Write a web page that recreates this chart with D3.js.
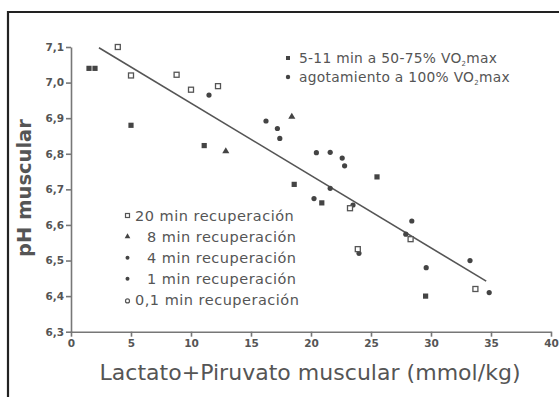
<!DOCTYPE html>
<html>
<head>
<meta charset="utf-8">
<script src="https://cdn.jsdelivr.net/npm/d3@7"></script>
<style>
  body { margin: 0; background: #fff; }
  text { font-family: "DejaVu Sans", sans-serif; fill: #555; }
</style>
</head>
<body>
<div id="chartbox"></div>
<script>
// data: [lactate+pyruvate mmol/kg, pH]
var ejercicio = [[1.5, 7.04], [2.0, 7.04], [5.0, 6.88], [11.1, 6.823], [18.6, 6.714], [20.9, 6.662], [25.5, 6.735], [29.55, 6.40]];
var agotamiento = [[11.5, 6.965], [16.25, 6.892], [17.2, 6.871], [17.4, 6.843], [20.45, 6.803], [21.6, 6.804],
                   [22.6, 6.788], [22.8, 6.766], [21.6, 6.703], [20.25, 6.674], [23.5, 6.656], [24.0, 6.52],
                   [28.4, 6.611], [27.9, 6.574], [29.6, 6.48], [33.25, 6.50], [34.85, 6.41]];
var rec20 = [[3.9, 7.10], [5.0, 7.02], [8.8, 7.022], [10.0, 6.98], [12.25, 6.99], [23.25, 6.647], [23.9, 6.532], [28.3, 6.56], [33.7, 6.42]];
var rec8 = [[12.9, 6.807], [18.4, 6.904]];
var regresion = [[2.33, 7.098], [34.6, 6.442]];

var xTicks = [0, 5, 10, 15, 20, 25, 30, 35, 40];
var yTicks = [6.3, 6.4, 6.5, 6.6, 6.7, 6.8, 6.9, 7.0, 7.1];
var leyendaArriba = ["5-11 min a 50-75% VO", "agotamiento a 100% VO"];
var leyendaAbajo = ["20 min recuperación", "8 min recuperación", "4 min recuperación", "1 min recuperación", "0,1 min recuperación"];

const width = 559, height = 397;
var svg = d3.select('#chartbox').append('svg').attr('width', width).attr('height', height);

var margin = {top: 47, right: 8, bottom: 65, left: 71};
var x = d3.scaleLinear().domain([0, 40]).range([margin.left, width - margin.right]);
var y = d3.scaleLinear().domain([6.3, 7.1]).range([height - margin.bottom - 0.3, margin.top]);

// frame (top and left only)
svg.append('line').attr('x1', 7).attr('x2', width).attr('y1', 12).attr('y2', 12).attr('stroke', '#222').attr('stroke-width', 2.2);
svg.append('line').attr('x1', 8).attr('x2', 8).attr('y1', 11).attr('y2', height).attr('stroke', '#222').attr('stroke-width', 2.2);

var fmt = function(d) { return d3.format('.1f')(d).replace('.', ','); };
var yAxis = d3.axisLeft(y).tickValues(yTicks).tickFormat(fmt).tickSize(5).tickSizeOuter(0);
var xAxis = d3.axisBottom(x).tickValues(xTicks).tickFormat(d3.format('d')).tickSize(5).tickSizeOuter(0);

var gy = svg.append('g').attr('transform', 'translate(' + margin.left + ',0)').call(yAxis);
var gx = svg.append('g').attr('transform', 'translate(0,' + y(6.3) + ')').call(xAxis);
[gx, gy].forEach(function(g) {
  g.selectAll('path, line').attr('stroke', '#777').attr('stroke-width', 1.6);
  g.selectAll('text').style('font-size', '10.5px').style('font-weight', 'bold').attr('fill', '#777');
});
gy.selectAll('text').attr('x', -7);

svg.append('text').attr('x', 310).attr('y', 380).style('text-anchor', 'middle').style('font-size', '22px')
  .attr('textLength', 421).text('Lactato+Piruvato muscular (mmol/kg)');
svg.append('text').attr('transform', 'translate(31,' + 188 + ') rotate(-90)').style('text-anchor', 'middle').style('font-size', '19.5px').style('font-weight', 'bold').text('pH muscular');

// regression line
svg.append('line').attr('x1', x(regresion[0][0])).attr('y1', y(regresion[0][1]))
  .attr('x2', x(regresion[1][0])).attr('y2', y(regresion[1][1]))
  .attr('stroke', '#555').attr('stroke-width', 1.6);

// markers
svg.selectAll('.ej').data(ejercicio).enter().append('rect')
  .attr('x', function(d) { return x(d[0]) - 2.6; }).attr('y', function(d) { return y(d[1]) - 2.6; })
  .attr('width', 5.2).attr('height', 5.2).attr('fill', '#444');
svg.selectAll('.ag').data(agotamiento).enter().append('circle')
  .attr('cx', function(d) { return x(d[0]); }).attr('cy', function(d) { return y(d[1]); })
  .attr('r', 2.6).attr('fill', '#444');
svg.selectAll('.r20').data(rec20).enter().append('rect')
  .attr('x', function(d) { return x(d[0]) - 2.5; }).attr('y', function(d) { return y(d[1]) - 2.5; })
  .attr('width', 5).attr('height', 5).attr('fill', 'white').attr('stroke', '#555').attr('stroke-width', 1.3);
var tri = d3.symbol().type(d3.symbolTriangle).size(22);
svg.selectAll('.r8').data(rec8).enter().append('path')
  .attr('d', tri).attr('transform', function(d) { return 'translate(' + x(d[0]) + ',' + y(d[1]) + ')'; })
  .attr('fill', '#444');

// legend top right
var lt = svg.append('g');
leyendaArriba.forEach(function(t, i) {
  var yy = 58 + i * 19;
  if (i == 0) lt.append('rect').attr('x', 286).attr('y', yy - 2).attr('width', 4).attr('height', 4).attr('fill', '#444');
  else lt.append('circle').attr('cx', 288).attr('cy', yy).attr('r', 2.2).attr('fill', '#444');
  var tx = lt.append('text').attr('x', 299).attr('y', yy + 5).style('font-size', '13.8px').style('letter-spacing', '0.3px');
  tx.append('tspan').text(t);
  tx.append('tspan').attr('dy', 3).style('font-size', '7px').text('2');
  tx.append('tspan').attr('dy', -3).text('max');
});

// legend bottom left
var lb = svg.append('g');
leyendaAbajo.forEach(function(t, i) {
  var yy = 215.5 + i * 21.1;
  if (i == 0) lb.append('rect').attr('x', 125.5).attr('y', yy - 2).attr('width', 4).attr('height', 4).attr('fill', 'white').attr('stroke', '#555').attr('stroke-width', 1.2);
  else if (i == 1) lb.append('path').attr('d', d3.symbol().type(d3.symbolTriangle).size(14)).attr('transform', 'translate(127.5,' + yy + ')').attr('fill', '#444');
  else if (i == 4) lb.append('circle').attr('cx', 127.5).attr('cy', yy + 1).attr('r', 2).attr('fill', 'white').attr('stroke', '#555').attr('stroke-width', 1.2);
  else lb.append('circle').attr('cx', 127.5).attr('cy', yy).attr('r', 2).attr('fill', '#444');
  var indent = (i >= 1 && i <= 3) ? 12 : 0;
  lb.append('text').attr('x', 135 + indent).attr('y', yy + 5).style('font-size', '14.5px').style('letter-spacing', '0.5px').text(t);
});
</script>
</body>
</html>
